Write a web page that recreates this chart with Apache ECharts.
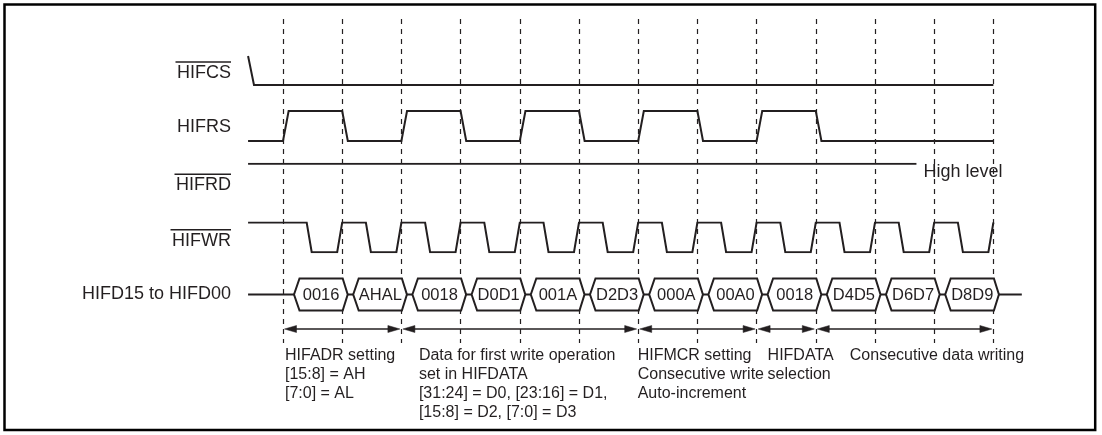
<!DOCTYPE html>
<html>
<head>
<meta charset="utf-8">
<script src="https://cdn.jsdelivr.net/npm/echarts@6/dist/echarts.min.js"></script>
<style>
html,body{margin:0;padding:0;background:#fff;}
#main{width:1102px;height:435px;}
</style>
</head>
<body>
<div id="main"></div>
<script>
// ---------------- data (time in clock-slot units, levels 0 = low, 1 = high) ----------------
const signalNames = ['HIFCS', 'HIFRS', 'HIFRD', 'HIFWR', 'HIFD15 to HIFD00'];
const overlined = [true, false, true, true, false];

const hifcsT = [-0.59, -0.49, 12];
const hifcsV = [1, 0, 0];

const hifrsT = [-0.59, 0, 0.095, 1, 1.095, 2, 2.095, 3, 3.095, 4, 4.095, 5, 5.095, 6, 6.095, 7, 7.095, 8, 8.095, 9, 9.095, 12];
const hifrsV = [0, 0, 1, 1, 0, 0, 1, 1, 0, 0, 1, 1, 0, 0, 1, 1, 0, 0, 1, 1, 0, 0];

const hifrdT = [-0.59, 10.7];
const hifrdV = [1, 1];
const hifrdNote = 'High level';

const hifwrT = [-0.59,
  0.4, 0.485, 0.915, 1,
  1.4, 1.485, 1.915, 2,
  2.4, 2.485, 2.915, 3,
  3.4, 3.485, 3.915, 4,
  4.4, 4.485, 4.915, 5,
  5.4, 5.485, 5.915, 6,
  6.4, 6.485, 6.915, 7,
  7.4, 7.485, 7.915, 8,
  8.4, 8.485, 8.915, 9,
  9.4, 9.485, 9.915, 10,
  10.4, 10.485, 10.915, 11,
  11.4, 11.485, 11.915, 12];
const hifwrV = [1,
  1, 0, 0, 1,
  1, 0, 0, 1,
  1, 0, 0, 1,
  1, 0, 0, 1,
  1, 0, 0, 1,
  1, 0, 0, 1,
  1, 0, 0, 1,
  1, 0, 0, 1,
  1, 0, 0, 1,
  1, 0, 0, 1,
  1, 0, 0, 1,
  1, 0, 0, 1];

const busIdleT = [-0.59, 12.48];
const busStart = [0, 1, 2, 3, 4, 5, 6, 7, 8, 9, 10, 11];
const busEnd   = [1, 2, 3, 4, 5, 6, 7, 8, 9, 10, 11, 12];
const busLabels = ['0016', 'AHAL', '0018', 'D0D1', '001A', 'D2D3', '000A', '00A0', '0018', 'D4D5', 'D6D7', 'D8D9'];

const phaseStart = [0, 2, 6, 8, 9];
const phaseEnd   = [2, 6, 8, 9, 12];
const phaseTexts = [
  'HIFADR setting\n[15:8] = AH\n[7:0] = AL',
  'Data for first write operation\nset in HIFDATA\n[31:24] = D0, [23:16] = D1,\n[15:8] = D2, [7:0] = D3',
  'HIFMCR setting\nConsecutive write\nAuto-increment',
  'HIFDATA\nselection',
  'Consecutive data writing'
];

const slotTicks = [0, 12, 1]; // min, max, interval of the dashed slot boundaries

// ---------------- layout / style ----------------
const INK = '#231f20';
const FONT = '"Liberation Sans", Arial, Helvetica, sans-serif';
const X0 = 283, UNIT = 59.2;
const TMIN = -0.6, TMAX = 12.6;
const gridLeft = X0 + TMIN * UNIT;
const gridWidth = (TMAX - TMIN) * UNIT;
const labelRight = 231;
const annotDx = [2, 17.5, -0.5, 11, 34];

const rows = [
  {top: 56, height: 29, pad: 3},
  {top: 111, height: 30, pad: 3},
  {top: 163.7, height: 30, pad: 11},
  {top: 222.5, height: 29.7, pad: 5},
  {top: 278.5, height: 32, pad: 0}
];

function textWidth(s, font) {
  const c = document.createElement('canvas').getContext('2d');
  c.font = font;
  return c.measureText(s).width;
}

const chart = echarts.init(document.getElementById('main'), null, {renderer: 'canvas'});

const grids = [
  {left: 4.5, top: 4.5, right: 6.8, bottom: 5, show: true, borderColor: '#000', borderWidth: 2.5, backgroundColor: 'transparent'},
  {left: X0, top: 19, width: (slotTicks[1] - slotTicks[0]) * UNIT, height: 324}
];
const xAxes = [
  {gridIndex: 0, type: 'value', show: false, min: 0, max: 1},
  {gridIndex: 1, type: 'value', min: slotTicks[0], max: slotTicks[1], interval: slotTicks[2],
   axisLine: {show: false}, axisTick: {show: false}, axisLabel: {show: false},
   splitLine: {show: true, lineStyle: {color: INK, width: 1.2, type: [5, 5]}}}
];
const yAxes = [
  {gridIndex: 0, type: 'value', show: false, min: 0, max: 1, splitLine: {show: false}},
  {gridIndex: 1, type: 'value', show: false, min: 0, max: 1, splitLine: {show: false}}
];

rows.forEach((r, i) => {
  grids.push({left: gridLeft, width: gridWidth, top: r.top, height: r.height});
  xAxes.push({gridIndex: i + 2, type: 'value', show: false, min: TMIN, max: TMAX});
  const name = signalNames[i];
  const w = textWidth(name, '18px ' + FONT);
  yAxes.push({
    gridIndex: i + 2, type: 'value', min: 0, max: 1,
    axisLine: {show: false}, axisTick: {show: false}, axisLabel: {show: false}, splitLine: {show: false},
    name: overlined[i] ? '{ol| }\n{t|' + name + '}' : '{t|' + name + '}',
    nameLocation: 'middle', nameRotate: 0, nameGap: gridLeft - labelRight,
    nameTextStyle: {
      color: INK, fontFamily: FONT, fontSize: 18, padding: [r.pad, 0, 0, 0], align: 'right',
      rich: {
        ol: {width: w + 1.5, height: 1.5, lineHeight: 1.5, backgroundColor: INK},
        t: {fontSize: 18, lineHeight: 20, color: INK, fontFamily: FONT}
      }
    }
  });
});
// arrows grid
grids.push({left: gridLeft, width: gridWidth, top: 314, height: 30});
xAxes.push({gridIndex: 7, type: 'value', show: false, min: TMIN, max: TMAX});
yAxes.push({gridIndex: 7, type: 'value', show: false, min: 0, max: 1, splitLine: {show: false}});

function zipPts(t, v) { return t.map((x, i) => [x, v[i]]); }
const sigLine = {type: 'line', showSymbol: false, symbol: 'none', animation: false, silent: true, z: 3,
  lineStyle: {color: INK, width: 2, join: 'miter'}};

const series = [
  Object.assign({}, sigLine, {xAxisIndex: 2, yAxisIndex: 2, data: zipPts(hifcsT, hifcsV)}),
  Object.assign({}, sigLine, {xAxisIndex: 3, yAxisIndex: 3, data: zipPts(hifrsT, hifrsV)}),
  Object.assign({}, sigLine, {xAxisIndex: 4, yAxisIndex: 4, data: zipPts(hifrdT, hifrdV),
    endLabel: {show: true, formatter: hifrdNote, color: INK, fontFamily: FONT, fontSize: 18, distance: 7, offset: [0, 8]}}),
  Object.assign({}, sigLine, {xAxisIndex: 5, yAxisIndex: 5, data: zipPts(hifwrT, hifwrV)}),
  Object.assign({}, sigLine, {xAxisIndex: 6, yAxisIndex: 6, z: 3, data: busIdleT.map(t => [t, 0.5])}),
  {
    type: 'custom', xAxisIndex: 6, yAxisIndex: 6, animation: false, silent: true, z: 5,
    data: busStart.map((s, i) => [s, busEnd[i], i]),
    renderItem: function (params, api) {
      const s = api.coord([api.value(0), 0.5]);
      const e = api.coord([api.value(1), 0.5]);
      const yT = api.coord([api.value(0), 1])[1];
      const yB = api.coord([api.value(0), 0])[1];
      const yM = s[1];
      const lt = s[0] + 11, lc = s[0] + 16.5, rc = e[0] + 0.5, rt = e[0] + 5.5;
      return {
        type: 'group',
        children: [
          {type: 'polygon', shape: {points: [[lt, yM], [lc, yT], [rc, yT], [rt, yM], [rc, yB], [lc, yB]]},
           style: {fill: '#fff', stroke: INK, lineWidth: 2, lineJoin: 'miter'}},
          {type: 'text', style: {text: busLabels[api.value(2)], x: (lc + rc) / 2, y: yM + 0.5,
            align: 'center', verticalAlign: 'middle', fill: INK, font: '16.5px ' + FONT}}
        ]
      };
    }
  },
  {
    type: 'custom', xAxisIndex: 7, yAxisIndex: 7, animation: false, silent: true, z: 5,
    data: phaseStart.map((s, i) => [s, phaseEnd[i], i]),
    renderItem: function (params, api) {
      const a = api.coord([api.value(0), 0.5]);
      const b = api.coord([api.value(1), 0.5]);
      const idx = api.value(2);
      const x1 = a[0] + 1.5, x2 = b[0] - 1.5, y = a[1];
      const L = 12, H = 3.5;
      return {
        type: 'group',
        children: [
          {type: 'line', shape: {x1: x1 + 4, y1: y, x2: x2 - 4, y2: y}, style: {stroke: INK, lineWidth: 1.3}},
          {type: 'polygon', shape: {points: [[x1, y], [x1 + L, y - H], [x1 + L, y + H]]}, style: {fill: INK, stroke: INK, lineWidth: 0.5}},
          {type: 'polygon', shape: {points: [[x2, y], [x2 - L, y - H], [x2 - L, y + H]]}, style: {fill: INK, stroke: INK, lineWidth: 0.5}},
          {type: 'text', style: {text: phaseTexts[idx], x: a[0] + annotDx[idx], y: 346,
            align: 'left', verticalAlign: 'top', lineHeight: 19, fill: INK, font: '16px ' + FONT}}
        ]
      };
    }
  }
];

chart.setOption({
  animation: false,
  backgroundColor: '#fff',
  grid: grids,
  xAxis: xAxes,
  yAxis: yAxes,
  series: series
});
</script>
</body>
</html>
